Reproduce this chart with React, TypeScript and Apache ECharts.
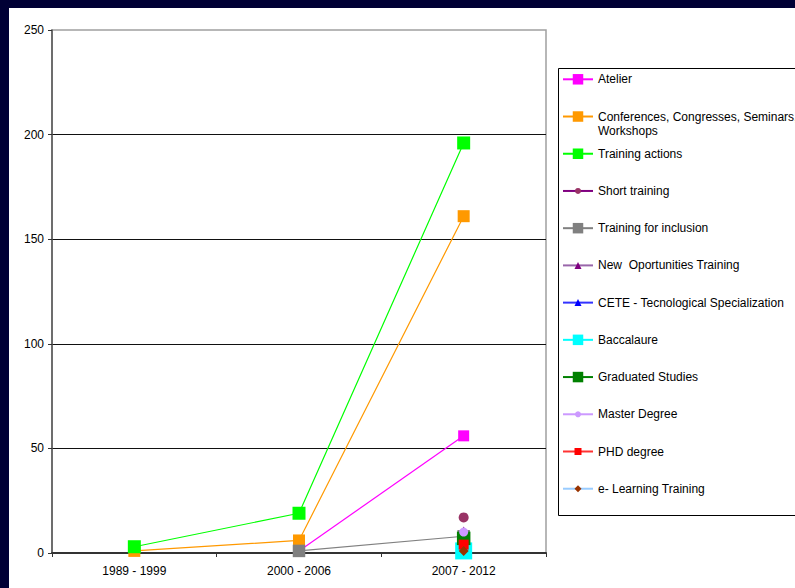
import React, { useEffect, useRef } from "react";
import * as echarts from "echarts";

// Periods on the category axis
const categories = ["1989 - 1999", "2000 - 2006", "2007 - 2012"];

// Counts per training type and period (null = no entry for that period)
const atelier = [null, 1, 56];
const conferences = [1, 6, 161];
const trainingActions = [3, 19, 196];
const shortTraining = [null, null, 17];
const trainingInclusion = [null, 1, 8];
const newOpportunities = [null, null, 11];
const cete = [null, null, 1];
const baccalaure = [null, null, 1];
const graduatedStudies = [null, null, 7];
const masterDegree = [null, null, 10];
const phdDegree = [null, null, 4];
const eLearning = [null, null, 1];

// Value axis range
const yMin = 0;
const yMax = 250;
const yStep = 50;

const FONT = "'Liberation Sans', Arial, sans-serif";

type SeriesDef = {
  name: string;
  data: (number | null)[];
  line: string;
  fill: string;
  symbol: string;
  size: number;
  legendSize: number;
};

const seriesDefs: SeriesDef[] = [
  { name: "Atelier", data: atelier, line: "#FF00FF", fill: "#FF00FF", symbol: "rect", size: 11, legendSize: 10.5 },
  { name: "Conferences, Congresses, Seminars, Workshops", data: conferences, line: "#FF9900", fill: "#FF9900", symbol: "rect", size: 12, legendSize: 10.5 },
  { name: "Training actions", data: trainingActions, line: "#00FF00", fill: "#00FF00", symbol: "rect", size: 13, legendSize: 10.5 },
  { name: "Short training", data: shortTraining, line: "#800080", fill: "#993366", symbol: "circle", size: 10, legendSize: 6 },
  { name: "Training for inclusion", data: trainingInclusion, line: "#808080", fill: "#808080", symbol: "rect", size: 12.5, legendSize: 10.5 },
  { name: "New  Oportunities Training", data: newOpportunities, line: "#9966AA", fill: "#800080", symbol: "triangle", size: 7, legendSize: 7 },
  { name: "CETE - Tecnological Specialization", data: cete, line: "#3333FF", fill: "#0000FF", symbol: "triangle", size: 7, legendSize: 7 },
  { name: "Baccalaure", data: baccalaure, line: "#00FFFF", fill: "#00FFFF", symbol: "rect", size: 17, legendSize: 10.5 },
  { name: "Graduated Studies", data: graduatedStudies, line: "#008000", fill: "#008000", symbol: "rect", size: 13.5, legendSize: 10.5 },
  { name: "Master Degree", data: masterDegree, line: "#CC99FF", fill: "#CC99FF", symbol: "circle", size: 9, legendSize: 6 },
  { name: "PHD degree", data: phdDegree, line: "#FF3333", fill: "#FF0000", symbol: "rect", size: 10, legendSize: 7 },
  { name: "e- Learning Training", data: eLearning, line: "#99CCFF", fill: "#993300", symbol: "diamond", size: 10, legendSize: 7 },
];

// Legend rows: first row centre and row pitch
const legendFirstY = 79.3;
const legendPitch = 37.22;

export default function App() {
  const ref = useRef<HTMLDivElement>(null);

  useEffect(() => {
    if (!ref.current) return;
    const chart = echarts.init(ref.current, null, { renderer: "svg" });

    const legends = seriesDefs.map((s, i) => {
      const itemH = s.legendSize / 0.8;
      const cy = legendFirstY + i * legendPitch;
      const twoLine = s.name.indexOf("Workshops") >= 0;
      return {
        orient: "vertical",
        left: 562,
        // the wrapped entry gets a blank leading line so its first text line sits level with the icon
        top: twoLine ? cy - 21 : cy - 7,
        padding: 0,
        itemWidth: 30,
        itemHeight: itemH,
        selectedMode: false,
        data: [s.name],
        formatter: (n: string) =>
          n.indexOf(", Workshops") >= 0 ? "\u00a0\n" + n.replace(", Workshops", ",\nWorkshops") : n,
        textStyle: {
          fontFamily: FONT,
          fontSize: 12,
          color: "#000",
          lineHeight: 14,
        },
      };
    });

    chart.setOption({
      animation: false,
      backgroundColor: "transparent",
      textStyle: { fontFamily: FONT },
      grid: {
        left: 52,
        right: 249,
        top: 30,
        bottom: 35,
        show: true,
        borderColor: "#A0A0A0",
        borderWidth: 1.5,
        backgroundColor: "transparent",
      },
      graphic: [
        {
          type: "rect",
          z: 0,
          shape: { x: 558.5, y: 68.5, width: 260, height: 447 },
          style: { fill: "#fff", stroke: "#000", lineWidth: 1 },
        },
      ],
      legend: legends,
      xAxis: {
        type: "category",
        data: categories,
        boundaryGap: true,
        axisLine: { show: true, lineStyle: { color: "#333", width: 2 } },
        axisTick: { show: true, length: 4, lineStyle: { color: "#333", width: 1 } },
        axisLabel: { color: "#000", fontSize: 12, fontFamily: FONT, margin: 12 },
        splitLine: { show: false },
      },
      yAxis: {
        type: "value",
        min: yMin,
        max: yMax,
        interval: yStep,
        axisLine: { show: true, lineStyle: { color: "#555", width: 1.5 } },
        axisTick: { show: true, length: 4, lineStyle: { color: "#333", width: 1 } },
        axisLabel: { color: "#000", fontSize: 12, fontFamily: FONT, margin: 8 },
        splitLine: { show: true, showMaxLine: false, lineStyle: { color: "#111", width: 1 } },
      },
      series: seriesDefs.map((s) => ({
        name: s.name,
        type: "line",
        data: s.data,
        symbol: s.symbol,
        symbolSize: s.size,
        showAllSymbol: true,
        lineStyle: { color: s.line, width: 1.2 },
        itemStyle: { color: s.fill, borderWidth: 0 },
        emphasis: { disabled: true },
      })),
    });

    return () => chart.dispose();
  }, []);

  return (
    <div style={{ position: "fixed", left: 0, top: 0, width: 795, height: 588, background: "#000035", overflow: "hidden" }}>
      <div style={{ position: "absolute", left: 9, top: 8, right: 0, bottom: 0, background: "#fff" }} />
      <div ref={ref} style={{ position: "absolute", left: 0, top: 0, width: 795, height: 588 }} />
    </div>
  );
}
